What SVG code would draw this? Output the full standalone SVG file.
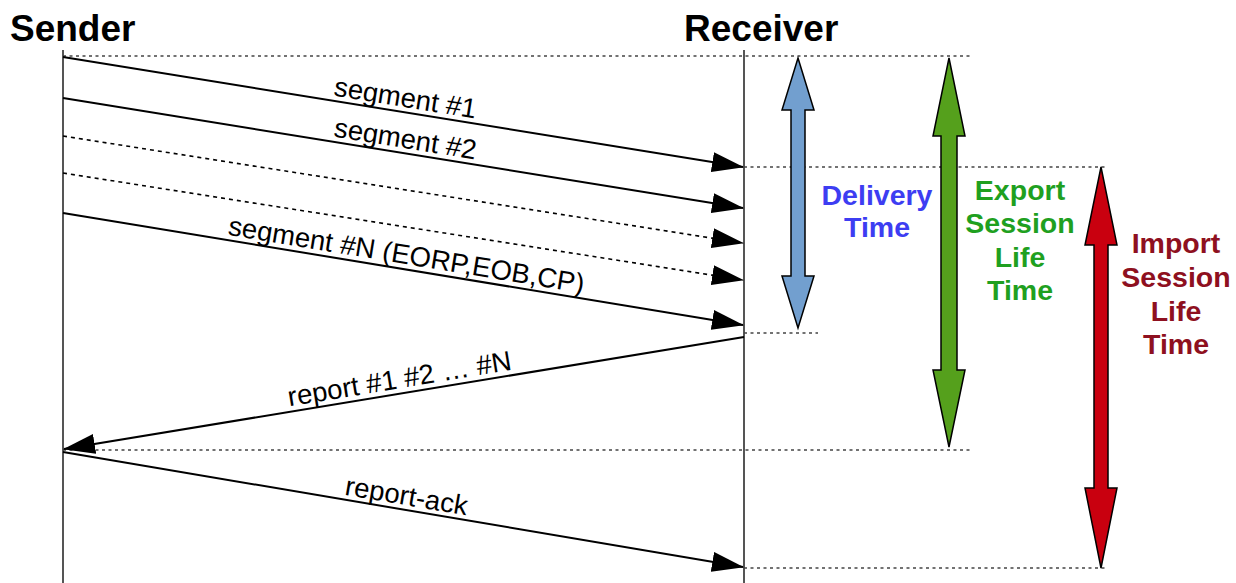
<svg xmlns="http://www.w3.org/2000/svg" width="1236" height="583" viewBox="0 0 1236 583">
  <style>
    .head { font-family: "Liberation Sans", Arial, sans-serif; font-weight: bold; font-size: 37px; fill: #000; }
    .msg { font-family: "Liberation Sans", Arial, sans-serif; font-size: 27.5px; fill: #000; text-anchor: middle; }
    .span { font-family: "Liberation Sans", Arial, sans-serif; font-weight: bold; font-size: 28.5px; text-anchor: middle; }
    .lifeline { stroke: #555; stroke-width: 2; fill: none; }
    .guide { stroke: #444; stroke-width: 1.5; stroke-dasharray: 3 3.5; fill: none; }
    .solid { stroke: #000; stroke-width: 2; fill: none; marker-end: url(#tip); }
    .dashed { stroke: #000; stroke-width: 1.6; stroke-dasharray: 4 4; fill: none; marker-end: url(#tip); }
    .block { stroke: #000; stroke-width: 1.5; stroke-linejoin: miter; }
  </style>
  <defs>
    <marker id="tip" viewBox="0 0 32 20" refX="31" refY="10" markerWidth="32" markerHeight="20" markerUnits="userSpaceOnUse" orient="auto">
      <path d="M0,0 L32,10 L0,20 z" fill="#000"/>
    </marker>
  </defs>
  <rect width="1236" height="583" fill="#fff"/>

  <!-- participants -->
  <g id="sender">
    <text class="head" x="10" y="41">Sender</text>
    <line class="lifeline" x1="63" y1="50" x2="63" y2="583"/>
  </g>
  <g id="receiver">
    <text class="head" x="684" y="41">Receiver</text>
    <line class="lifeline" x1="744" y1="50" x2="744" y2="583"/>
  </g>

  <!-- time reference guides -->
  <g id="guides">
    <line class="guide" x1="63" y1="56" x2="972" y2="56"/>
    <line class="guide" x1="744" y1="167" x2="1107" y2="167"/>
    <line class="guide" x1="744" y1="333" x2="818" y2="333"/>
    <line class="guide" x1="63" y1="450" x2="972" y2="450"/>
    <line class="guide" x1="744" y1="568" x2="1107" y2="568"/>
  </g>

  <!-- messages -->
  <g id="connectors">
    <line class="solid" x1="63" y1="57" x2="743" y2="167"/>
    <line class="solid" x1="63" y1="98" x2="743" y2="208"/>
    <line class="dashed" x1="63" y1="136" x2="743" y2="243"/>
    <line class="dashed" x1="63" y1="173" x2="743" y2="280"/>
    <line class="solid" x1="63" y1="213" x2="743" y2="325"/>
    <line class="solid" x1="744" y1="337" x2="64" y2="449"/>
    <line class="solid" x1="63" y1="452" x2="743" y2="567"/>

    <text class="msg" x="404" y="107" transform="rotate(9.18 404 107)">segment #1</text>
    <text class="msg" x="404" y="148" transform="rotate(9.18 404 148)">segment #2</text>
    <text class="msg" x="405" y="264" transform="rotate(9.34 405 264)">segment #N (EORP,EOB,CP)</text>
    <text class="msg" x="401" y="388" transform="rotate(-9.34 401 388)">report #1 #2 … #N</text>
    <text class="msg" x="405" y="505" transform="rotate(9.59 405 505)">report-ack</text>
  </g>

  <!-- delivery time span -->
  <g id="delivery-time">
    <polygon class="block" fill="#729fcf" points="798,58 814,110 805,110 805,276 814,276 798,328 782,276 791,276 791,110 782,110"/>
    <text class="span" fill="#3d3df2"><tspan x="877" y="205">Delivery</tspan><tspan x="877" y="237">Time</tspan></text>
  </g>

  <!-- export session lifetime span -->
  <g id="export-session">
    <polygon class="block" fill="#55a01c" points="949,58 965,136 957,136 957,370 965,370 949,447 933,370 941,370 941,136 933,136"/>
    <text class="span" fill="#1fa01f"><tspan x="1020" y="200">Export</tspan><tspan x="1020" y="233">Session</tspan><tspan x="1020" y="267">Life</tspan><tspan x="1020" y="300">Time</tspan></text>
  </g>

  <!-- import session lifetime span -->
  <g id="import-session">
    <polygon class="block" fill="#c9000f" points="1101,167 1117,245 1108,245 1108,488 1117,488 1101,568 1085,488 1094,488 1094,245 1085,245"/>
    <text class="span" fill="#8e1020"><tspan x="1176" y="253">Import</tspan><tspan x="1176" y="287">Session</tspan><tspan x="1176" y="321">Life</tspan><tspan x="1176" y="354">Time</tspan></text>
  </g>
</svg>
